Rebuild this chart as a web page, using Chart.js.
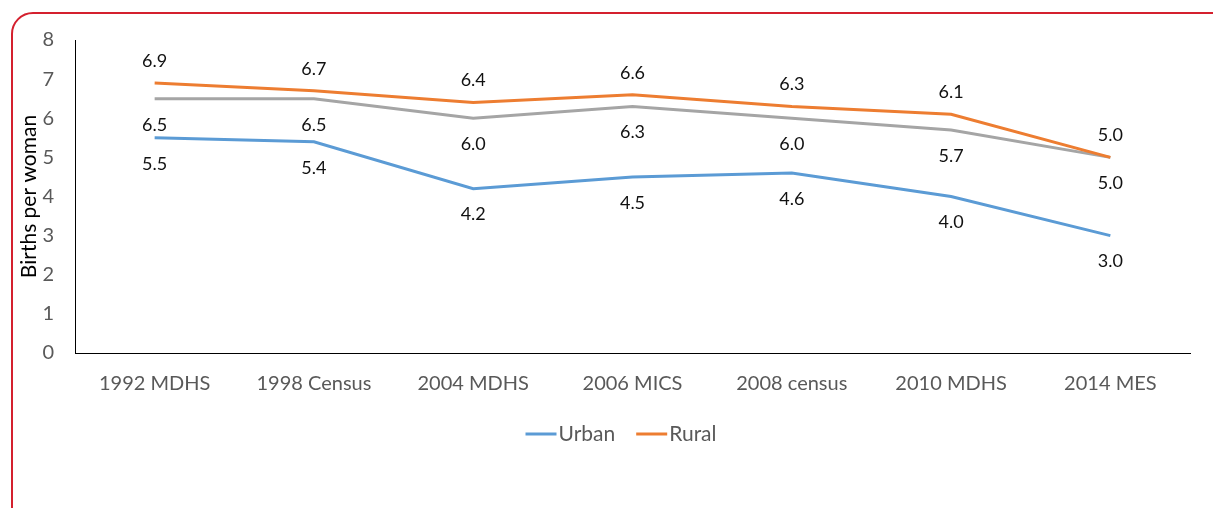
<!DOCTYPE html>
<html>
<head>
<meta charset="utf-8">
<script src="https://cdn.jsdelivr.net/npm/chart.js@4"></script>
<style>
  html, body { margin: 0; padding: 0; background: #fff; }
  body { width: 1213px; height: 508px; position: relative; overflow: hidden; }
  .frame {
    position: absolute; left: 11px; top: 12px; width: 1230px; height: 520px;
    border: 2px solid #d4202e; border-radius: 22px; box-sizing: border-box;
  }
  .wrap { position: absolute; left: 0; top: 0; width: 1213px; height: 508px; }
</style>
</head>
<body>
<div class="frame"></div>
<div class="wrap"><canvas id="chart"></canvas></div>
<script>
// Данные графика
const categories = ['1992 MDHS', '1998 Census', '2004 MDHS', '2006 MICS', '2008 census', '2010 MDHS', '2014 MES'];
const urban = [5.5, 5.4, 4.2, 4.5, 4.6, 4.0, 3.0];
const rural = [6.9, 6.7, 6.4, 6.6, 6.3, 6.1, 5.0];
const total = [6.5, 6.5, 6.0, 6.3, 6.0, 5.7, 5.0];
const yTicks = [0, 1, 2, 3, 4, 5, 6, 7, 8];
const legendSeries = ['Urban', 'Rural'];

const FONT = 'Lato, "Open Sans", sans-serif';

// Подписи значений над / под точками
const valueLabels = {
    id: 'valueLabels',
    afterDatasetsDraw(chart) {
        const ctx = chart.ctx;
        ctx.save();
        ctx.font = '18px ' + FONT;
        ctx.fillStyle = '#111';
        ctx.textAlign = 'center';
        ctx.textBaseline = 'middle';
        chart.data.datasets.forEach((ds, i) => {
            const meta = chart.getDatasetMeta(i);
            meta.data.forEach((pt, j) => {
                const dy = ds.labelPos === 'above' ? -22 : 26;
                ctx.fillText(ds.data[j].toFixed(1), pt.x, pt.y + dy);
            });
        });
        ctx.restore();
    }
};

// Легенда как в Excel: короткая линия вплотную к тексту, по центру всего блока
const excelLegend = {
    id: 'excelLegend',
    afterDraw(chart) {
        const ctx = chart.ctx;
        const items = chart.data.datasets.filter(ds => legendSeries.includes(ds.label));
        const boxW = 31, gap = 2, spacing = 21, y = 434, centerX = 621;
        ctx.save();
        ctx.font = '21px ' + FONT;
        ctx.textBaseline = 'middle';
        const widths = items.map(ds => boxW + gap + ctx.measureText(ds.label).width);
        const total = widths.reduce((a, b) => a + b, 0) + spacing * (items.length - 1);
        let x = centerX - total / 2;
        items.forEach((ds, i) => {
            ctx.strokeStyle = ds.borderColor;
            ctx.lineWidth = 3;
            ctx.beginPath();
            ctx.moveTo(x, y);
            ctx.lineTo(x + boxW, y);
            ctx.stroke();
            ctx.fillStyle = '#595959';
            ctx.fillText(ds.label, x + boxW + gap, y);
            x += widths[i] + spacing;
        });
        ctx.restore();
    }
};

new Chart(document.getElementById('chart'), {
    type: 'line',
    data: {
        labels: categories,
        datasets: [
            { label: 'Urban', data: urban, borderColor: '#5B9BD5', backgroundColor: '#5B9BD5', labelPos: 'below' },
            { label: 'Rural', data: rural, borderColor: '#ED7D31', backgroundColor: '#ED7D31', labelPos: 'above' },
            { label: 'Total', data: total, borderColor: '#A5A5A5', backgroundColor: '#A5A5A5', labelPos: 'below' }
        ]
    },
    options: {
        responsive: true,
        maintainAspectRatio: false,
        animation: false,
        elements: {
            line: { borderWidth: 3, tension: 0 },
            point: { radius: 0, hoverRadius: 0 }
        },
        layout: { padding: { left: 17, right: 23, top: 40, bottom: 91 } },
        plugins: {
            tooltip: { enabled: false },
            legend: { display: false }
        },
        scales: {
            x: {
                offset: true,
                grid: { display: false, drawTicks: false },
                border: { display: true, color: '#000', width: 1 },
                ticks: { font: { family: FONT, size: 20 }, color: '#595959', padding: 19, maxRotation: 0 },
                afterFit(scale) { scale.height = 64; }
            },
            y: {
                min: 0,
                max: 8,
                afterBuildTicks(scale) { scale.ticks = yTicks.map(v => ({ value: v })); },
                grid: { display: false, drawTicks: false },
                border: { display: true, color: '#000', width: 1 },
                ticks: { font: { family: FONT, size: 20 }, color: '#595959', padding: 21 },
                title: {
                    display: true,
                    text: 'Births per woman',
                    color: '#000',
                    font: { family: FONT, size: 21 },
                    padding: 0
                },
                afterFit(scale) { scale.width = 58; }
            }
        }
    },
    plugins: [valueLabels, excelLegend]
});
</script>
</body>
</html>
